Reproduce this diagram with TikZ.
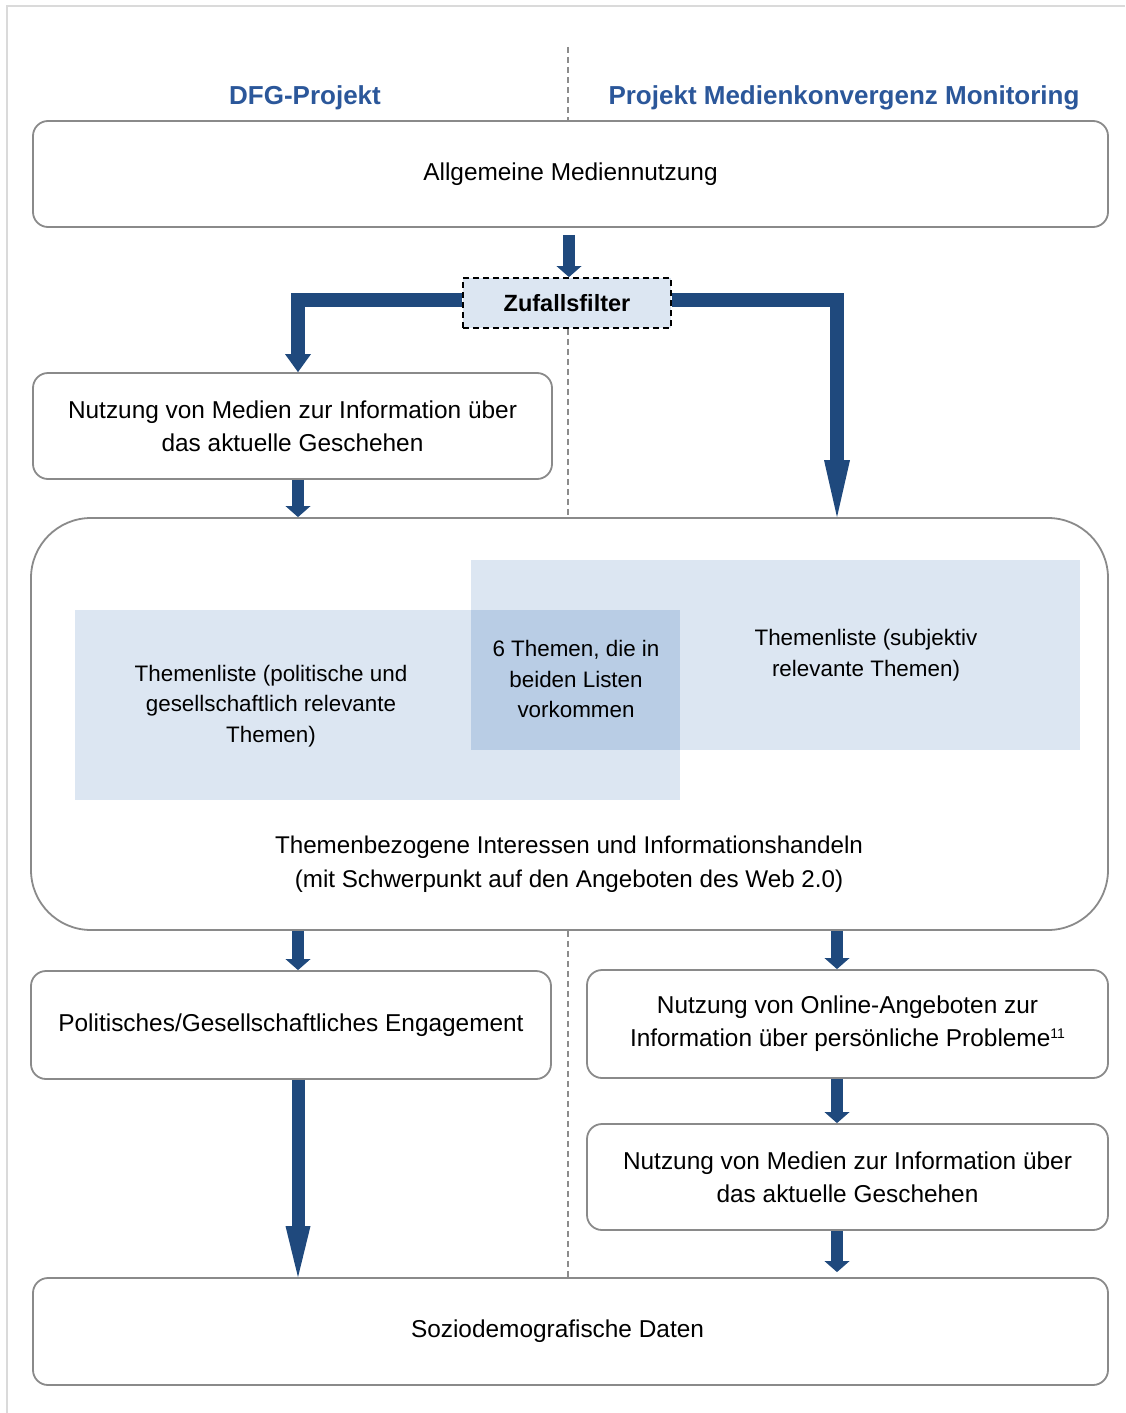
\documentclass[tikz,border=0pt]{standalone}
\usepackage{fontspec}
\setmainfont{Liberation Sans}
\usetikzlibrary{arrows.meta}
\definecolor{arrowblue}{HTML}{1F497D}
\definecolor{headblue}{RGB}{43,87,154}
\definecolor{boxgray}{HTML}{8A8A8A}
\definecolor{framegray}{HTML}{DADADA}
\definecolor{lightfill}{HTML}{DCE6F2}
\definecolor{darkfill}{HTML}{B9CDE5}
\definecolor{divgray}{HTML}{8C8C8C}
\begin{document}
\begin{tikzpicture}[x=1pt,y=-1pt,
  box/.style={draw=boxgray, line width=1.8pt, rounded corners=15pt, fill=white, align=center,
    font=\fontsize{24.4}{33}\selectfont, inner sep=0pt},
  zfbox/.style={draw=black, line width=1.8pt, dash pattern=on 6pt off 4pt, fill=lightfill,
    font=\fontsize{23.5}{28}\selectfont\bfseries, inner sep=0pt},
  head/.style={text=headblue, font=\fontsize{26}{30}\selectfont\bfseries, inner sep=0pt},
  ttext/.style={align=center, font=\fontsize{22.4}{30.5}\selectfont, inner sep=0pt},
  btext/.style={align=center, font=\fontsize{24.2}{34}\selectfont, inner sep=0pt},
  arr/.style={draw=arrowblue, line width=12pt, -{Triangle[width=25pt,length=11pt,line width=0pt]}},
  arrthick/.style={draw=arrowblue, line width=14pt, -{Triangle[width=26pt,length=18pt,line width=0pt]}},
  arrbig/.style={draw=arrowblue, line width=14pt, -{Triangle[width=26pt,length=57pt,line width=0pt]}},
  arrlong/.style={draw=arrowblue, line width=13pt, -{Triangle[width=25pt,length=51pt,line width=0pt]}},
  divider/.style={draw=divgray, line width=1.6pt, dash pattern=on 6pt off 4pt},
  frameline/.style={draw=framegray, line width=2pt}
]
\useasboundingbox (0,0) rectangle (1125,1413);
\fill[white] (0,0) rectangle (1125,1413);
\draw[frameline] (7,1413) -- (7,6) -- (1125,6);

% headers
\node[head] (h1) at (305,98) {DFG-Projekt};
\node[head] (h2) at (844,98) {Projekt Medienkonvergenz Monitoring};

% boxes
\node[box, minimum width=1075pt, minimum height=106pt] (b1) at (570.5,174) {Allgemeine Mediennutzung};
\node[zfbox, minimum width=208pt, minimum height=50pt] (zf) at (567,303) {Zufallsfilter};
\node[box, minimum width=519pt, minimum height=106pt] (b2) at (292.5,426)
  {Nutzung von Medien zur Information über\\das aktuelle Geschehen};
\node[box, rounded corners=60pt, minimum width=1077pt, minimum height=412pt] (big) at (569.5,724) {};

% theme lists
\fill[lightfill] (75,610) rectangle (680,800);
\fill[lightfill] (471,560) rectangle (1080,750);
\fill[darkfill] (471,610) rectangle (680,750);
\node[ttext] (tl) at (271,706) {Themenliste (politische und\\gesellschaftlich relevante\\Themen)};
\node[ttext] (tm) at (576,679) {6 Themen, die in\\beiden Listen\\vorkommen};
\node[ttext] (tr) at (866,655) {Themenliste (subjektiv\\relevante Themen)};
\node[btext] (bt) at (569,864) {Themenbezogene Interessen und Informationshandeln\\(mit Schwerpunkt auf den Angeboten des Web 2.0)};

\node[box, minimum width=520pt, minimum height=108pt] (pol) at (291,1025) {Politisches/Gesellschaftliches Engagement};
\node[box, minimum width=521pt, minimum height=108pt] (rb1) at (847.5,1024)
  {Nutzung von Online-Angeboten zur\\Information über persönliche Probleme\raisebox{8pt}{\fontsize{14}{14}\selectfont 11}};
\node[box, minimum width=521pt, minimum height=106pt] (rb2) at (847.5,1177)
  {Nutzung von Medien zur Information über\\das aktuelle Geschehen};
\node[box, minimum width=1075pt, minimum height=107pt] (soz) at (570.5,1331.5) {Soziodemografische Daten\hspace*{26pt}};

% divider
\coordinate (d1) at (568,47);
\draw[divider] (d1) -- (d1 |- b1.north);
\draw[divider] (d1 |- zf.south) -- (d1 |- big.north);
\draw[divider] (d1 |- big.south) -- (d1 |- soz.north);

% columns
\coordinate (lc) at (298,0);
\coordinate (rc) at (837,0);
\coordinate (mc) at (569,0);

% connectors
\draw[arr, shorten <=7pt] (mc |- b1.south) -- (mc |- zf.north);
\draw[arrthick] (zf.west |- 0,300) -| (lc |- b2.north);
\draw[arrbig] (zf.east |- 0,300) -| (rc |- big.north);
\draw[arr] (lc |- b2.south) -- (lc |- big.north);
\draw[arr] (lc |- big.south) -- (lc |- pol.north);
\draw[arrlong] (lc |- pol.south) -- (lc |- soz.north);
\draw[arr] (rc |- big.south) -- (rc |- rb1.north);
\draw[arr] (rc |- rb1.south) -- (rc |- rb2.north);
\draw[arr, shorten >=5pt] (rc |- rb2.south) -- (rc |- soz.north);
\end{tikzpicture}
\end{document}
